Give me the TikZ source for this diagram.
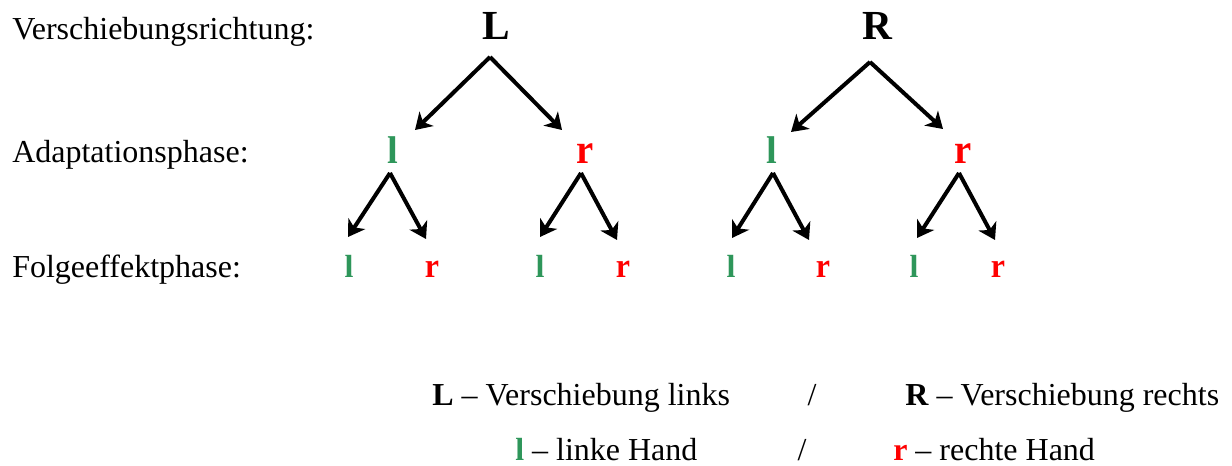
\documentclass[tikz,border=0pt]{standalone}
\usepackage{fontspec}
\usepackage{graphicx}
\setmainfont{Liberation Serif}
\usetikzlibrary{arrows.meta}
\definecolor{hgreen}{RGB}{46,150,90}
\definecolor{hred}{RGB}{255,0,0}
\newcommand{\tallr}{\scalebox{1}[1.08]{r}}
\tikzset{
  lbl/.style={inner sep=0pt, anchor=base west, font=\fontsize{24}{28}\selectfont},
  topL/.style={inner sep=0pt, anchor=base, font=\fontsize{31}{36}\selectfont\bfseries},
  lvlA/.style={inner sep=0pt, anchor=base, font=\fontsize{29}{33}\selectfont\bfseries},
  lvlB/.style={inner sep=0pt, anchor=base, font=\fontsize{24}{28}\selectfont\bfseries},
  arr/.style={line width=3pt, -{Stealth[length=12pt,width=15pt,inset=3.5pt]}, line join=miter},
  sep/.style={inner sep=0pt, anchor=base, font=\fontsize{24}{28}\selectfont},
}
\begin{document}
\begin{tikzpicture}[x=0.75pt,y=-0.75pt]
\useasboundingbox (0,0) rectangle (1232,466);
% row labels
\node[lbl] (t1) at (12,40) {Verschiebungsrichtung:};
\node[lbl] (t2) at (12,163) {Adaptationsphase:};
\node[lbl] (t3) at (12,278) {Folgeeffektphase:};
% top
\node[topL] (L) at (496,40) {L};
\node[topL] (R) at (877,40) {R};
% level 1
\node[lvlA, text=hgreen] (Ll) at (393,164) {l};
\node[lvlA, text=hred] (Lr) at (585,164) {\tallr};
\node[lvlA, text=hgreen] (Rl) at (772,164) {l};
\node[lvlA, text=hred] (Rr) at (963,164) {\tallr};
% level 2
\node[lvlB, text=hgreen] (Lll) at (349,278) {l};
\node[lvlB, text=hred] (Llr) at (432,278) {\tallr};
\node[lvlB, text=hgreen] (Lrl) at (540,278) {l};
\node[lvlB, text=hred] (Lrr) at (623,278) {\tallr};
\node[lvlB, text=hgreen] (Rll) at (731,278) {l};
\node[lvlB, text=hred] (Rlr) at (823,278) {\tallr};
\node[lvlB, text=hgreen] (Rrl) at (914,278) {l};
\node[lvlB, text=hred] (Rrr) at (998,278) {\tallr};
% connector points
\coordinate (La) at (490,57);
\coordinate (Ra) at (870,62);
\coordinate (Lla) at (390,173);
\coordinate (Lra) at (581,173);
\coordinate (Rla) at (773,173);
\coordinate (Rra) at (959,173);
\coordinate (La1) at (415,130);
\coordinate (La2) at (562,130);
\coordinate (Ra1) at (791,132);
\coordinate (Ra2) at (943,129);
\coordinate (Lla1) at (348,237);
\coordinate (Lla2) at (426,239);
\coordinate (Lra1) at (540,237);
\coordinate (Lra2) at (617,240);
\coordinate (Rla1) at (732,238);
\coordinate (Rla2) at (809,240);
\coordinate (Rra1) at (917,238);
\coordinate (Rra2) at (995,240);
\draw[arr] (La) -- (La1);
\draw[arr] (La) -- (La2);
\draw[arr] (Ra) -- (Ra1);
\draw[arr] (Ra) -- (Ra2);
\draw[arr] (Lla) -- (Lla1);
\draw[arr] (Lla) -- (Lla2);
\draw[arr] (Lra) -- (Lra1);
\draw[arr] (Lra) -- (Lra2);
\draw[arr] (Rla) -- (Rla1);
\draw[arr] (Rla) -- (Rla2);
\draw[arr] (Rra) -- (Rra1);
\draw[arr] (Rra) -- (Rra2);
% legend
\node[lbl] (k1) at (432,406) {\textbf{L} – Verschiebung links};
\node[sep] (s1) at (812,406) {/};
\node[lbl] (k2) at (905,406) {\textbf{R} – Verschiebung rechts};
\node[lbl] (k3) at (515,461) {\textbf{\color{hgreen}l} – linke Hand};
\node[sep] (s2) at (802,461) {/};
\node[lbl] (k4) at (893,461) {\textbf{\color{hred}r} – rechte Hand};
\end{tikzpicture}
\end{document}
